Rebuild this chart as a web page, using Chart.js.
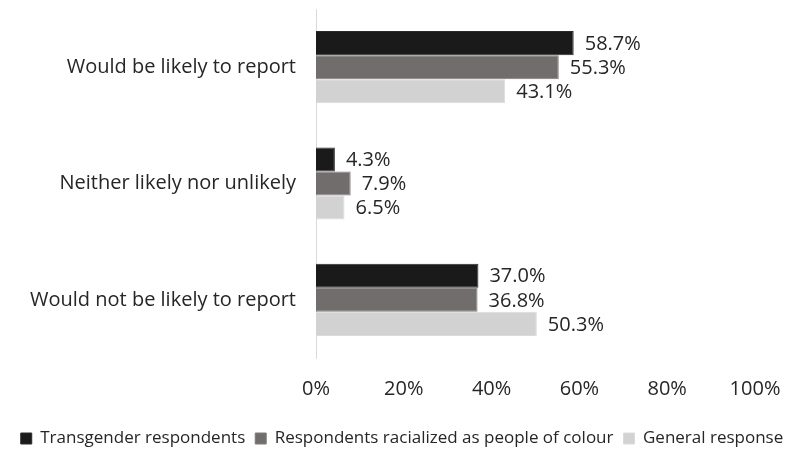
<!DOCTYPE html>
<html>
<head>
<meta charset="utf-8">
<script src="https://cdn.jsdelivr.net/npm/chart.js@4/dist/chart.umd.min.js"></script>
<style>
  html, body { margin: 0; padding: 0; background: #fff; }
  #wrap { width: 804px; height: 452px; }
</style>
</head>
<body>
<div id="wrap"><canvas id="chart" width="804" height="452"></canvas></div>
<script>
// Categories and series
const categories = ['Would be likely to report', 'Neither likely nor unlikely', 'Would not be likely to report'];
const transgender = [58.7, 4.3, 37.0];
const racialized = [55.3, 7.9, 36.8];
const general = [43.1, 6.5, 50.3];
const seriesNames = ['Transgender respondents', 'Respondents racialized as people of colour', 'General response'];
const xTicks = [0, 20, 40, 60, 80, 100];

const FONT = "'Open Sans', 'Liberation Sans', sans-serif";
const TEXT = '#262626';

// Draw the value labels at the end of each bar
const valueLabels = {
    id: 'valueLabels',
    afterDatasetsDraw(chart) {
        const c = chart.ctx;
        c.save();
        c.font = '20px ' + FONT;
        c.fillStyle = TEXT;
        c.textAlign = 'left';
        c.textBaseline = 'middle';
        chart.data.datasets.forEach((ds, i) => {
            chart.getDatasetMeta(i).data.forEach((bar, j) => {
                c.fillText(ds.data[j].toFixed(1) + '%', bar.x + 11, bar.y + 1);
            });
        });
        c.restore();
    }
};

const ctx = document.getElementById('chart').getContext('2d');
new Chart(ctx, {
    type: 'bar',
    data: {
        labels: categories,
        datasets: [
            { label: seriesNames[0], data: transgender, backgroundColor: '#1a1a1a', borderColor: '#2a2a2a' },
            { label: seriesNames[1], data: racialized, backgroundColor: '#716d6c', borderColor: '#807c7b' },
            { label: seriesNames[2], data: general, backgroundColor: '#d3d2d2', borderColor: '#dcdbdb' }
        ]
    },
    options: {
        indexAxis: 'y',
        responsive: false,
        animation: false,
        // negative bottom padding pushes the legend a bit lower
        layout: { padding: { top: 9, right: 0, left: 0, bottom: -5 } },
        datasets: { bar: { barPercentage: 1, categoryPercentage: 0.62, borderWidth: 1 } },
        plugins: {
            legend: {
                position: 'bottom',
                onClick: null,
                labels: {
                    font: { size: 17, family: FONT },
                    color: TEXT,
                    boxWidth: 11,
                    boxHeight: 11,
                    padding: 10
                }
            },
            tooltip: { enabled: false }
        },
        scales: {
            x: {
                min: 0, max: 100,
                afterBuildTicks: s => { s.ticks = xTicks.map(v => ({ value: v })); },
                grid: { display: false },
                border: { display: false },
                ticks: {
                    callback: v => v + '%',
                    font: { size: 20, family: FONT },
                    color: TEXT,
                    padding: 11
                },
                afterFit: s => { s.height = 62; s.paddingRight = 49; s.paddingLeft = 0; }
            },
            y: {
                grid: { display: false },
                border: { display: true, color: '#d9d9d9', width: 1 },
                ticks: {
                    font: { size: 20, family: FONT },
                    color: TEXT,
                    padding: 12
                },
                afterFit: s => { s.width = 316; s.paddingTop = 0; s.paddingBottom = 0; }
            }
        }
    },
    plugins: [valueLabels]
});
</script>
</body>
</html>
